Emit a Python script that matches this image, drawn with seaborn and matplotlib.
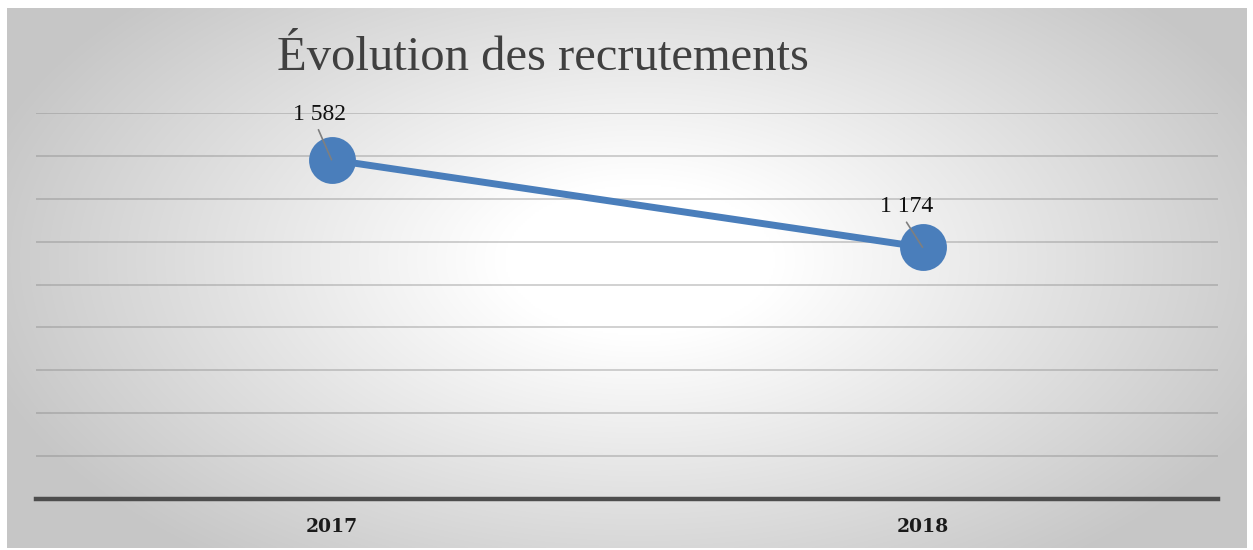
import numpy as np
import matplotlib
matplotlib.use("Agg")
import matplotlib.pyplot as plt
import seaborn as sns

years = ["2017", "2018"]
recrutements = [1582, 1174]
labels = ["1 582", "1 174"]
title = "Évolution des recrutements"

W, H = 1253, 550
sns.set_theme(style="white")
fig = plt.figure(figsize=(W / 100, H / 100), dpi=100)
fig.patch.set_facecolor("white")

# radial gradient background panel
bx0, by0, bx1, by1 = 7, 8, 1247, 548
bg = fig.add_axes([bx0 / W, 1 - by1 / H, (bx1 - bx0) / W, (by1 - by0) / H])
gx, gy = np.meshgrid(np.linspace(0, bx1 - bx0, 600), np.linspace(0, by1 - by0, 300))
cx, cy = 640 - bx0, 260 - by0
d = np.sqrt(((gx - cx) / 680.0) ** 2 + ((gy - cy) / 380.0) ** 2)
t = np.clip((d - 0.2) / 0.8, 0, 1)
val = 1.0 - 0.22 * t
img = np.dstack([val, val, val])
bg.imshow(img, aspect="auto", extent=[0, 1, 0, 1], interpolation="bilinear")
bg.set_axis_off()

ax = fig.add_axes([36 / W, 1 - 499 / H, (1218 - 36) / W, (499 - 113) / H])
ax.set_facecolor("none")

sns.pointplot(x=years, y=recrutements, color="#4a7ebb", ax=ax,
              markersize=30, linewidth=5, markers="o", zorder=3)

ax.set_ylim(0, 1800)
ax.set_xlim(-0.5, 1.5)
ax.set_yticks(np.arange(200, 1801, 200))
ax.yaxis.grid(True, color="#7f7f7f", alpha=0.45, linewidth=1.1)
ax.set_axisbelow(True)
ax.tick_params(axis="y", left=False, labelleft=False)
ax.tick_params(axis="x", bottom=False, pad=8)
for s in ["top", "left", "right"]:
    ax.spines[s].set_visible(False)
ax.spines["bottom"].set_color("#4d4d4d")
ax.spines["bottom"].set_linewidth(3.2)
ax.set_xlabel("")
ax.set_ylabel("")
for lab in ax.get_xticklabels():
    lab.set_fontfamily("DejaVu Serif")
    lab.set_fontweight("bold")
    lab.set_fontsize(13.5)
    lab.set_color("#1a1a1a")

text_off = [(-8.3, 32.8), (-11.2, 29.5)]
line_off = [(-9.4, 21.6), (-11.5, 18.0)]
for i, (v, lab) in enumerate(zip(recrutements, labels)):
    ax.annotate("", xy=(i, v), xytext=line_off[i], textcoords="offset points",
                arrowprops=dict(arrowstyle="-", color="#7f7f7f", lw=1.2,
                                shrinkA=0, shrinkB=0), zorder=5)
    ax.annotate(lab, xy=(i, v), xytext=text_off[i], textcoords="offset points",
                ha="center", va="center", fontsize=17,
                family="Liberation Serif", color="#111111", zorder=6)

fig.text(277 / W, 1 - 70 / H, title, ha="left", va="baseline",
         fontsize=35, family="Liberation Serif",
         color="#404040")

fig.savefig("out.png", dpi=100)
